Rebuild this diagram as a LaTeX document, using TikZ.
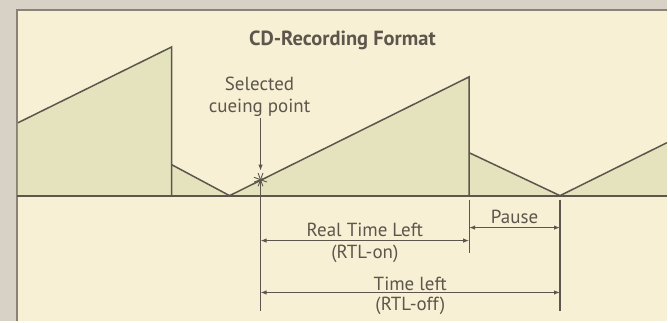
\documentclass[tikz,border=0pt]{standalone}
\usepackage{fontspec}
\setmainfont{PT Sans}
\usetikzlibrary{arrows.meta, positioning, calc}
\definecolor{cdFrame}{RGB}{216, 210, 198}
\definecolor{cdEdge}{RGB}{138, 130, 118}
\definecolor{cdPaper}{RGB}{248, 240, 212}
\definecolor{cdOlive}{RGB}{229, 227, 190}
\definecolor{cdInk}{RGB}{92, 86, 76}

\begin{document}
\begin{tikzpicture}[x=1pt, y=-1pt, every node/.style={font=\fontsize{19}{22}\selectfont, text=cdInk},
                    dimline/.style={{Latex[length=6pt, width=4.5pt]}-{Latex[length=6pt, width=4.5pt]}, cdInk, line width=1.1pt}]
                    % frame and paper
                    \fill[cdFrame] (0,0) rectangle (668,322);
                    \fill[cdPaper] (17,10) rectangle (668,322);
                    \draw[cdEdge, line width=2.4pt] (17,322) -- (17,10) -- (668,10);
                    % recorded signal
                    \fill[cdOlive] (18,196) -- (18,123) -- (172,47) -- (172,165) -- (230,196) -- (470,77)
                        -- (470,153) -- (561,196) -- (668,143) -- (668,196) -- cycle;
                    \draw[cdInk, line width=1.5pt] (18,123) -- (172,47) -- (172,196);
                    \draw[cdInk, line width=1.5pt] (172,165) -- (230,196) -- (470,77) -- (470,196);
                    \draw[cdInk, line width=1.5pt] (470,153) -- (561,196) -- (668,143);
                    \draw[cdInk, line width=2pt] (17,196) -- (668,196);
                    % title and cueing point
                    \node[font=\bfseries\fontsize{20.5}{24}\selectfont] (title) at (343,40) {CD-Recording Format};
                    \node[align=center, inner sep=1pt] (selText) at (260,97) {Selected\\cueing point};
                    \coordinate (cue) at (261,180);
                    \coordinate (cueTop) at (261,171);
                    \draw[-{Latex[length=6pt, width=4.5pt]}, cdInk, line width=1.1pt] (selText.south -| cue) -- (cueTop);
                    \foreach \a in {20,70,110,160} {
                        \draw[cdInk, line width=0.9pt] (cue) ++(\a:7) -- ++(\a+180:14);
                    }
                    % extension lines
                    \coordinate (extA) at (261,312);
                    \coordinate (extB1) at (470,200);
                    \coordinate (extB2) at (470,253);
                    \coordinate (extC1) at (561,200);
                    \coordinate (extC2) at (561,312);
                    \draw[cdInk, line width=1.1pt] (cue) -- (extA);
                    \draw[cdInk, line width=1.1pt] (extB1) -- (extB2);
                    \draw[cdInk, line width=1.1pt] (extC1) -- (extC2);
                    % dimensions
                    \foreach \n/\xa/\xb/\y in {pause/470/561/228, rtl/261/470/241, left/261/561/293} {
                        \coordinate (\n A) at (\xa,\y);
                        \coordinate (\n B) at (\xb,\y);
                    }
                    \draw[dimline] (pauseA) -- node[above] (pauseTxt) {Pause} (pauseB);
                    \draw[dimline] (rtlA) -- node[above] (rtlTxt) {Real Time Left} node[below, inner sep=4pt] (rtlOn) {(RTL-on)} (rtlB);
                    \draw[dimline] (leftA) -- node[above, inner sep=1pt] (leftTxt) {Time left} node[below, inner sep=4pt] (rtlOff) {(RTL-off)} (leftB);
                \end{tikzpicture}
\end{document}
